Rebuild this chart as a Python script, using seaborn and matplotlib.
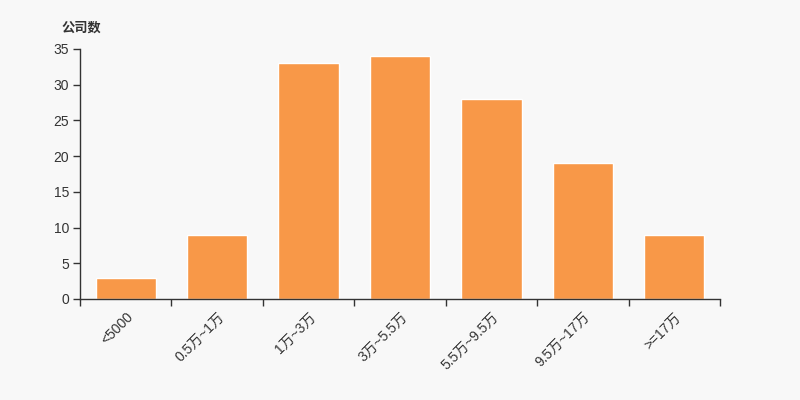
import numpy as np
import pandas as pd
import matplotlib
matplotlib.use('Agg')
import matplotlib.pyplot as plt
import seaborn as sns

# Data
categories = ['<5000', '0.5万~1万', '1万~3万', '3万~5.5万', '5.5万~9.5万', '9.5万~17万', '>=17万']
counts = [3, 9, 33, 34, 28, 19, 9]

sns.set_style('white')
plt.rcParams['font.family'] = ['Liberation Sans', 'Noto Sans CJK SC', 'DejaVu Sans']

bg = '#f8f8f8'
bar_color = '#f89848'
axis_color = '#333333'

df = pd.DataFrame({'category': categories, 'count': counts})

fig = plt.figure(figsize=(8, 4), dpi=100, facecolor=bg)
ax = fig.add_axes([0.1, 0.2525, 0.8, 0.625])
ax.set_facecolor(bg)

sns.barplot(data=df, x='category', y='count', color=bar_color, width=0.66,
            saturation=1, ax=ax)

ax.set_xlim(-0.5, len(categories) - 0.5)
ax.set_ylim(0, 35)
ax.set_yticks(range(0, 36, 5))

# ticks at category boundaries, labels at centers
ax.set_xticks(np.arange(-0.5, len(categories), 1.0))
ax.set_xticklabels([])
ax.set_xticks(range(len(categories)), minor=True)
ax.set_xticklabels(categories, minor=True, rotation=45, ha='right',
                   rotation_mode='anchor', fontsize=10, color=axis_color)
ax.tick_params(axis='x', which='minor', bottom=True, length=0, pad=8)
ax.tick_params(axis='x', which='major', bottom=True, length=5, width=1,
               color=axis_color, direction='out')
ax.tick_params(axis='y', left=True, length=5, width=1, color=axis_color,
               labelsize=10, labelcolor=axis_color, direction='out', pad=3)

for s in ['top', 'right']:
    ax.spines[s].set_visible(False)
for s in ['left', 'bottom']:
    ax.spines[s].set_color(axis_color)
    ax.spines[s].set_linewidth(1)

ax.set_xlabel('')
ax.set_ylabel('')
fig.text(0.0775, 0.93, '公司数', fontsize=9.5, fontweight='bold',
         family=['Noto Sans CJK SC', 'DejaVu Sans'],
         color=axis_color, ha='left', va='center')

fig.savefig('out.png', dpi=100, facecolor=bg)
